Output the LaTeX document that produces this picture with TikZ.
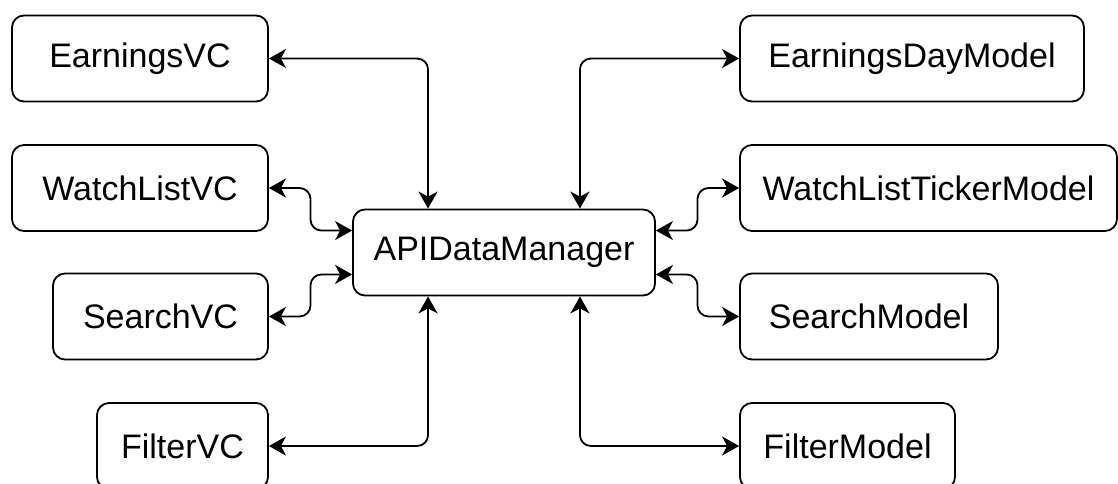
\documentclass[tikz,border=0pt]{standalone}
\usepackage{fontspec}
\setmainfont{Liberation Sans}
\usetikzlibrary{calc, arrows.meta}
\tikzset{>=latex}
\tikzset{box/.style={draw, line width=1.8pt, rounded corners=12pt, minimum height=86pt, inner sep=0pt, font=\fontsize{34}{40}\selectfont}}
\tikzset{link/.style={{Stealth[length=17pt,width=19pt,inset=5pt]}-{Stealth[length=17pt,width=19pt,inset=5pt]}, line width=1.8pt, rounded corners=11pt}}

\begin{document}
\begin{tikzpicture}[x=1pt, y=-1pt]
\useasboundingbox (0,0) rectangle (1118,484);
% view controllers
\node[box, minimum width=256pt] (earnvc) at (140, 58.5) {EarningsVC};
\node[box, minimum width=256pt] (watchvc) at (140, 188) {WatchListVC};
\node[box, minimum width=215pt] (searchvc) at (160.5, 316.5) {SearchVC};
\node[box, minimum width=171pt] (filtervc) at (182.5, 446) {FilterVC};
% manager
\node[box, minimum width=302pt] (api) at (504, 252.5) {APIDataManager};
% models
\node[box, minimum width=344pt] (earnmodel) at (912, 58.5) {EarningsDayModel};
\node[box, minimum width=377pt] (watchmodel) at (928.5, 188) {WatchListTickerModel};
\node[box, minimum width=258pt] (searchmodel) at (869, 316.5) {SearchModel};
\node[box, minimum width=215pt] (filtermodel) at (847.5, 446) {FilterModel};
% ports on the manager
\coordinate (apin1) at ($(api.north west)!0.25!(api.north east)$);
\coordinate (apin2) at ($(api.north west)!0.75!(api.north east)$);
\coordinate (apis1) at ($(api.south west)!0.25!(api.south east)$);
\coordinate (apis2) at ($(api.south west)!0.75!(api.south east)$);
\coordinate (apiw1) at ($(api.north west)!0.25!(api.south west)$);
\coordinate (apiw2) at ($(api.north west)!0.75!(api.south west)$);
\coordinate (apie1) at ($(api.north east)!0.25!(api.south east)$);
\coordinate (apie2) at ($(api.north east)!0.75!(api.south east)$);
% links
\draw[link] (earnvc.east) -| (apin1);
\draw[link] (watchvc.east) -| ($(watchvc.east)!0.5!(apiw1)$) |- (apiw1);
\draw[link] (searchvc.east) -| ($(searchvc.east)!0.5!(apiw2)$) |- (apiw2);
\draw[link] (filtervc.east) -| (apis1);
\draw[link] (earnmodel.west) -| (apin2);
\draw[link] (watchmodel.west) -| ($(watchmodel.west)!0.5!(apie1)$) |- (apie1);
\draw[link] (searchmodel.west) -| ($(searchmodel.west)!0.5!(apie2)$) |- (apie2);
\draw[link] (filtermodel.west) -| (apis2);
\end{tikzpicture}
\end{document}
